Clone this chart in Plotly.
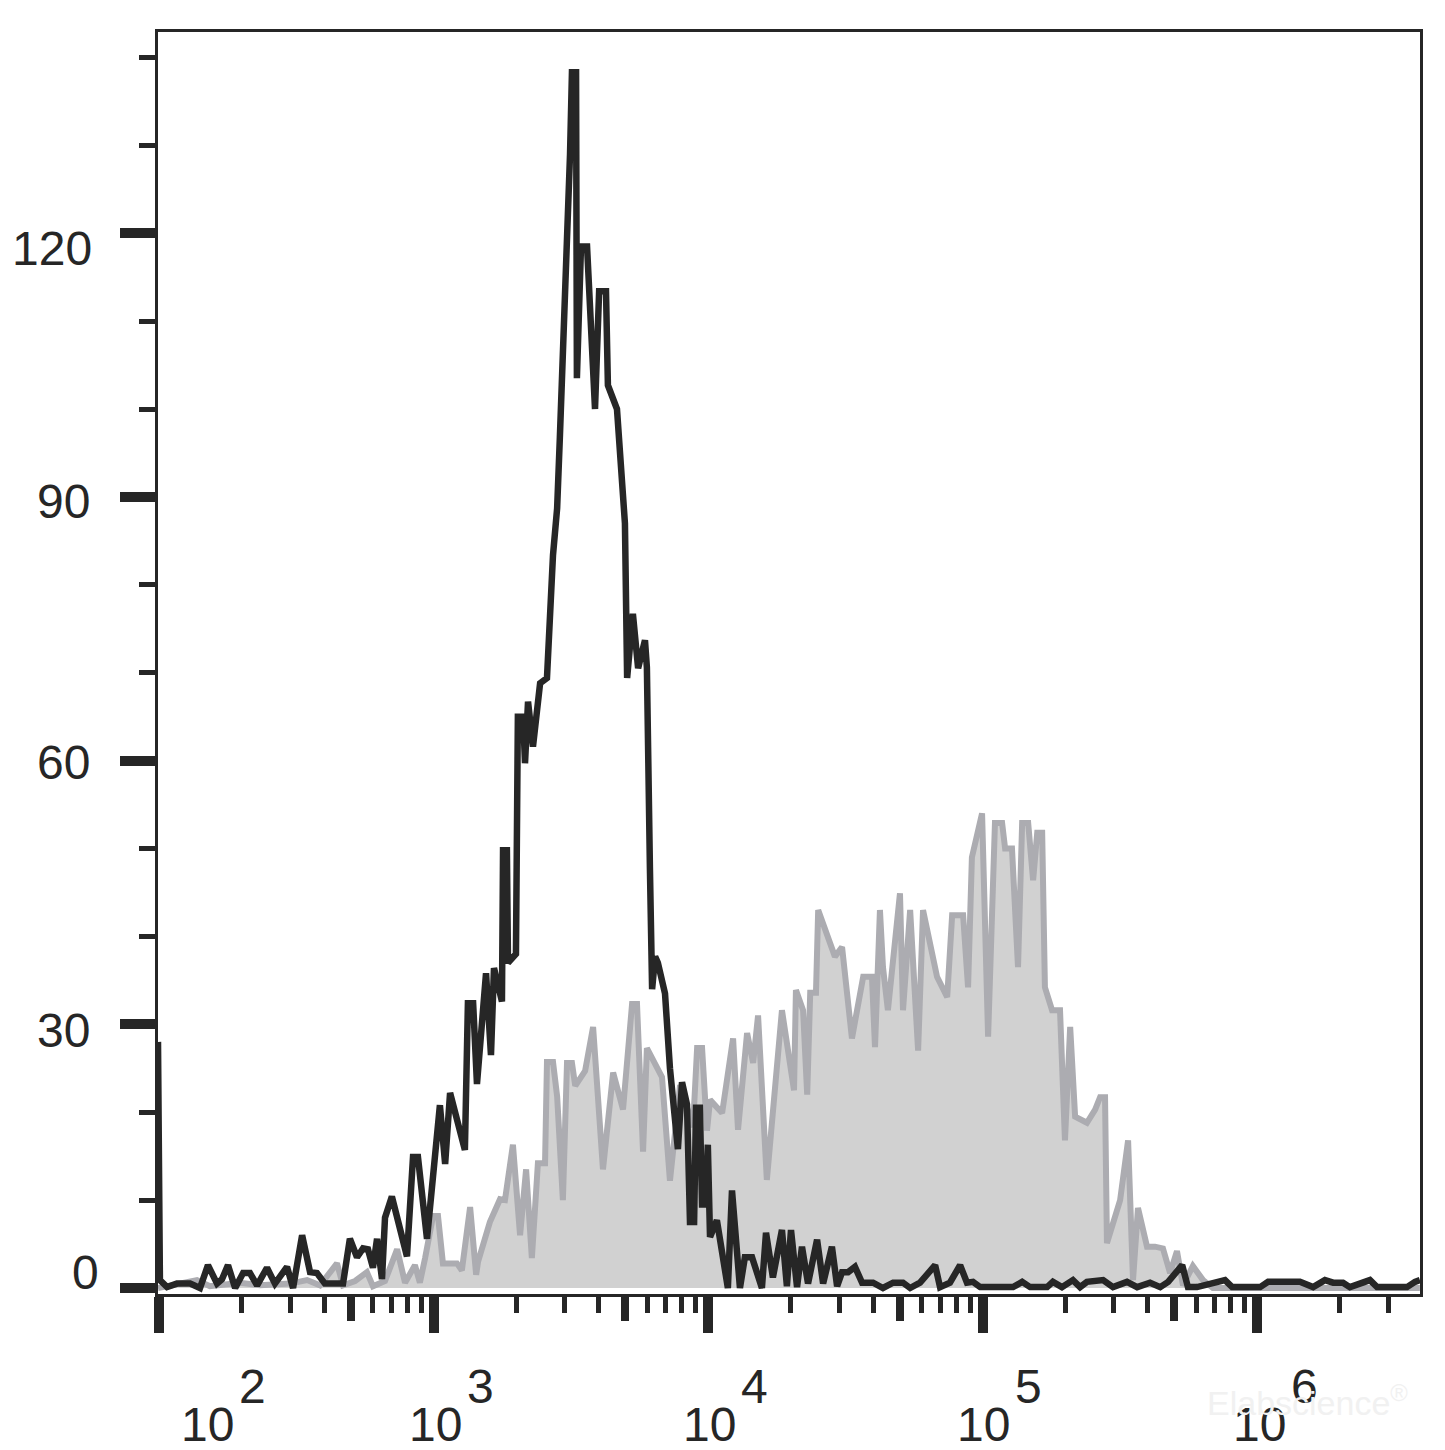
import math
import plotly.graph_objects as go

# ---------------- data (log10 of fluorescence intensity, count) ----------------
black_log_x = [1.996, 2.003, 2.029, 2.065, 2.113, 2.149, 2.178, 2.211, 2.229, 2.251,
               2.277, 2.306, 2.331, 2.357, 2.393, 2.422, 2.466, 2.488, 2.521, 2.550,
               2.575, 2.604, 2.670, 2.695, 2.721, 2.743, 2.761, 2.779, 2.794, 2.812,
               2.823, 2.848, 2.903, 2.925, 2.943, 2.976, 3.023, 3.042, 3.060, 3.114,
               3.125, 3.144, 3.158, 3.191, 3.209, 3.220, 3.249, 3.253, 3.267, 3.271,
               3.300, 3.307, 3.326, 3.333, 3.344, 3.362, 3.388, 3.413, 3.435, 3.450,
               3.460, 3.479, 3.486, 3.497, 3.504, 3.519, 3.522, 3.537, 3.559, 3.588,
               3.603, 3.628, 3.635, 3.668, 3.697, 3.705, 3.726, 3.745, 3.770, 3.777,
               3.788, 3.796, 3.807, 3.817, 3.843, 3.861, 3.890, 3.905, 3.923, 3.934,
               3.949, 3.956, 3.970, 3.978, 3.992, 3.999, 4.007, 4.032, 4.072, 4.087,
               4.116, 4.134, 4.160, 4.196, 4.211, 4.236, 4.269, 4.287, 4.302, 4.324,
               4.342, 4.364, 4.397, 4.419, 4.451, 4.470, 4.488, 4.510, 4.535, 4.561,
               4.601, 4.637, 4.674, 4.710, 4.736, 4.772, 4.827, 4.845, 4.881, 4.918,
               4.943, 4.965, 4.991, 5.111, 5.144, 5.173, 5.235, 5.256, 5.289, 5.329,
               5.355, 5.380, 5.439, 5.475, 5.526, 5.563, 5.610, 5.647, 5.676, 5.727,
               5.748, 5.781, 5.883, 5.909, 6.011, 6.040, 6.109, 6.156, 6.204, 6.247,
               6.277, 6.313, 6.338, 6.411, 6.437, 6.546, 6.575, 6.593]
black_count = [28, 0.9, 0.1, 0.5, 0.5, 0, 2.6, 0.5, 1.0, 2.6,
               0, 1.7, 1.7, 0.3, 2.3, 0.5, 2.4, 0, 6.0, 1.8,
               1.7, 0.5, 0.5, 5.6, 3.5, 4.5, 4.4, 2.3, 5.6, 1.0,
               8.0, 10.4, 3.6, 14.9, 14.9, 5.6, 20.8, 14.1, 22.2, 15.7,
               32.4, 32.4, 23.2, 35.8, 26.5, 36.4, 32.6, 49.8, 49.8, 37,
               38, 65, 65, 59.7, 66.7, 61.6, 68.8, 69.4, 83.4, 88.7,
               96.8, 111.8, 118, 129, 138.3, 138.3, 103.5, 118.5, 118.5, 100,
               113.4, 113.4, 102.7, 100, 87, 69.4, 76.7, 70.5, 73.7, 70.6,
               47.8, 34, 37.7, 37, 33.5, 25, 15.8, 23.4, 20.9, 7.5,
               7.5, 20.5, 20.5, 9.5, 9.5, 16.3, 5.8, 7.7, 0, 11.1,
               0, 3.5, 3.5, 0, 6.3, 1.2, 6.6, 0.2, 6.6, 0.1,
               4.7, 0.5, 5.5, 0.5, 4.7, 0.2, 1.8, 1.8, 2.4, 0.6,
               0.6, 0, 0.6, 0.6, 0, 0.6, 2.6, 0.1, 0.6, 2.6,
               0.6, 0.7, 0.1, 0.1, 0.7, 0.1, 0.1, 0.7, 0.1, 0.9,
               0.1, 0.7, 0.9, 0.1, 0.7, 0.1, 0.6, 0.1, 0.7, 2.6,
               0.1, 0.1, 0.9, 0.1, 0.1, 0.7, 0.7, 0.7, 0.1, 0.9,
               0.6, 0.6, 0.1, 0.9, 0.1, 0.1, 0.7, 0.9]

gray_log_x = [1.996, 2.040, 2.138, 2.185, 2.295, 2.368, 2.477, 2.539, 2.586, 2.648,
              2.670, 2.714, 2.757, 2.779, 2.823, 2.867, 2.896, 2.932, 2.950, 2.969,
              2.998, 3.016, 3.034, 3.085, 3.103, 3.133, 3.155, 3.162, 3.205, 3.242,
              3.260, 3.289, 3.315, 3.337, 3.358, 3.380, 3.406, 3.413, 3.435, 3.450,
              3.471, 3.486, 3.504, 3.516, 3.552, 3.581, 3.617, 3.654, 3.690, 3.723,
              3.741, 3.763, 3.777, 3.832, 3.861, 3.898, 3.945, 3.960, 3.978, 3.996,
              4.007, 4.051, 4.091, 4.109, 4.142, 4.164, 4.182, 4.214, 4.269, 4.313,
              4.320, 4.346, 4.361, 4.372, 4.393, 4.401, 4.462, 4.488, 4.524, 4.565,
              4.597, 4.608, 4.626, 4.637, 4.655, 4.699, 4.710, 4.736, 4.765, 4.783,
              4.834, 4.871, 4.889, 4.929, 4.947, 4.961, 4.998, 5.020, 5.045, 5.071,
              5.082, 5.107, 5.129, 5.144, 5.166, 5.184, 5.199, 5.217, 5.227, 5.253,
              5.282, 5.300, 5.319, 5.337, 5.380, 5.410, 5.428, 5.446, 5.453, 5.501,
              5.530, 5.548, 5.566, 5.599, 5.628, 5.657, 5.683, 5.708, 5.730, 5.766,
              5.803, 5.839, 6.593]
gray_count = [0, 0.3, 0.9, 0.2, 0.6, 0.3, 0.5, 0.9, 0.3, 2.8,
              0.3, 0.8, 1.8, 0.2, 0.8, 4.4, 0.6, 2.6, 0.6, 3.4,
              8.2, 8.2, 2.8, 2.8, 2.0, 9.2, 1.5, 3.0, 7.5, 10.1,
              10.0, 16.3, 6.0, 13.5, 3.4, 14.2, 14.2, 25.7, 25.7, 21.8,
              10.0, 25.6, 25.6, 23.0, 24.7, 29.7, 13.5, 24.5, 20.3, 32.3,
              32.3, 15.5, 27.3, 24.0, 12.2, 23.1, 18.3, 27.3, 27.3, 17.9,
              21.4, 19.9, 28.4, 18.0, 29.0, 25.6, 31.0, 12.3, 31.6, 22.5,
              33.9, 31.6, 22.0, 33.6, 33.6, 43.0, 37.7, 38.8, 28.4, 35.4,
              35.4, 27.4, 43.0, 36.5, 31.6, 44.9, 31.6, 43.0, 27.0, 43.0,
              35.4, 33.1, 42.4, 42.4, 34.2, 49.0, 54.0, 28.6, 52.9, 52.9,
              50.0, 50.0, 36.5, 52.9, 52.9, 46.4, 51.8, 51.8, 34.2, 31.6,
              31.6, 16.8, 29.7, 19.5, 18.8, 20.3, 21.7, 21.7, 5.1, 10.0,
              16.8, 0.9, 9.1, 4.7, 4.7, 4.5, 1.7, 4.2, 0.3, 2.5,
              0.9, 0.0, 0.0]

x_major_vals = [1e2, 1e3, 1e4, 1e5, 1e6]
x_major_exps = ["2", "3", "4", "5", "6"]
x_mid_vals = [5e2, 5e3, 5e4, 5e5]
x_minor_vals = [m * d for d in (1e2, 1e3, 1e4, 1e5) for m in (2, 3, 4, 6, 7, 8, 9)] + [2e6, 3e6]

y_major_vals = [0, 30, 60, 90, 120]
y_major_text = ["0", "30", "60", "90", "120"]
y_minor_vals = [10, 20, 40, 50, 70, 80, 100, 110, 130, 140]

# ---------------- styling ----------------
INK = "#262626"
FONT = "Arial, Liberation Sans, sans-serif"
X_RANGE = [1.996, 6.5934]
Y_RANGE = [-0.683, 142.89]

fig = go.Figure()
fig.add_trace(go.Scatter(
    x=[10 ** v for v in gray_log_x], y=gray_count, mode="lines",
    line=dict(color="#acacb1", width=6), fill="tozeroy", fillcolor="#d1d1d1",
    hoverinfo="skip", showlegend=False))
fig.add_trace(go.Scatter(
    x=[10 ** v for v in black_log_x], y=black_count, mode="lines",
    line=dict(color=INK, width=6.5), hoverinfo="skip", showlegend=False))
# invisible trace to activate the overlaying axis carrying the mid-size ticks
fig.add_trace(go.Scatter(x=[1e3], y=[None], xaxis="x2", mode="lines",
                         showlegend=False, hoverinfo="skip"))

# the page body adds an 8 px offset, so the figure is sized/margined to compensate
fig.update_layout(
    width=1437, height=1442,
    margin=dict(l=150, r=25, t=24, b=156),
    paper_bgcolor="white", plot_bgcolor="white",
    showlegend=False,
    xaxis=dict(type="log", range=X_RANGE, showgrid=False, zeroline=False,
               showline=True, linecolor=INK, linewidth=3, mirror=True,
               ticks="outside", tickvals=x_major_vals, ticklen=36, tickwidth=10,
               tickcolor=INK, showticklabels=False,
               minor=dict(tickvals=x_minor_vals, ticks="outside", ticklen=16,
                          tickwidth=5, tickcolor=INK, showgrid=False)),
    xaxis2=dict(type="log", range=X_RANGE, overlaying="x", anchor="y", side="bottom",
                showgrid=False, zeroline=False, showline=False,
                ticks="outside", tickvals=x_mid_vals, ticklen=26, tickwidth=8,
                tickcolor=INK, showticklabels=False),
    yaxis=dict(range=Y_RANGE, showgrid=False, zeroline=False,
               showline=True, linecolor=INK, linewidth=3, mirror=True,
               ticks="outside", tickvals=y_major_vals, ticklen=35, tickwidth=10,
               tickcolor=INK, showticklabels=False,
               minor=dict(tickvals=y_minor_vals, ticks="outside", ticklen=16,
                          tickwidth=5, tickcolor=INK, showgrid=False)),
)

# y tick labels (right-aligned, slight per-label vertical offsets as in the original)
y_label_dx = [-57, -66, -66, -66, -64]
y_label_dy = [16, -6, -2, -5, -15]
for v, t, dx, dy in zip(y_major_vals, y_major_text, y_label_dx, y_label_dy):
    fig.add_annotation(x=0, xref="paper", y=v, yref="y", text=t, showarrow=False,
                       xanchor="right", yanchor="middle", xshift=dx, yshift=dy,
                       font=dict(family=FONT, size=48, color=INK))

# x tick labels: "10" with a raised, full-size exponent (annotation x on a log axis = log10)
x_base_dx = [48, 2, 1, 1, 2]
for v, e, dx in zip(x_major_vals, x_major_exps, x_base_dx):
    lx = math.log10(v)
    fig.add_annotation(x=lx, xref="x", y=0, yref="paper", text="10", showarrow=False,
                       xanchor="center", yanchor="middle", xshift=dx, yshift=-130,
                       font=dict(family=FONT, size=48, color=INK))
    fig.add_annotation(x=lx, xref="x", y=0, yref="paper", text=e, showarrow=False,
                       xanchor="center", yanchor="middle", xshift=dx + 45, yshift=-92,
                       font=dict(family=FONT, size=48, color=INK))

# faint watermark
fig.add_annotation(x=0.911, xref="paper", y=0, yref="paper", text="Elabscience<sup>®</sup>",
                   showarrow=False, xanchor="center", yanchor="middle", yshift=-106,
                   font=dict(family=FONT, size=34, color="#f1f1f1"))

fig.write_html("out.html")
